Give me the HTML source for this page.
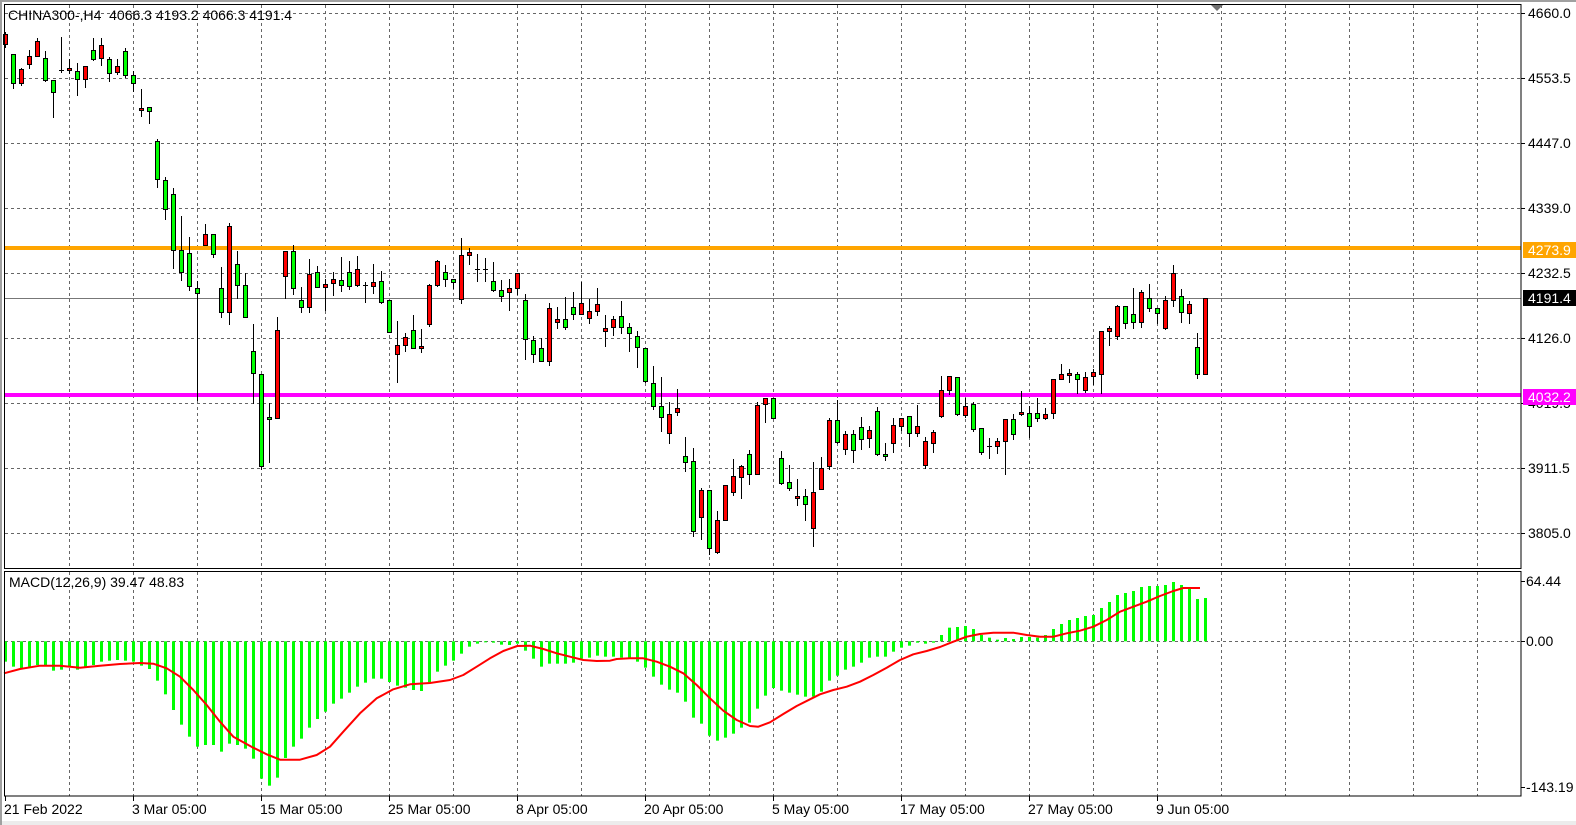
<!DOCTYPE html>
<html><head><meta charset="utf-8">
<style>
html,body{margin:0;padding:0;background:#fff;}
svg{display:block;font-family:"Liberation Sans",Tahoma,sans-serif;}
</style></head>
<body>
<svg id="s" width="1576" height="825" xmlns="http://www.w3.org/2000/svg">
<rect x="0" y="0" width="1576" height="825" fill="#fff"/>
<rect x="0" y="821" width="1576" height="4" fill="#ececec"/>
<rect x="0" y="0" width="2" height="825" fill="#a0a0a0"/>
<rect x="0" y="0" width="1576" height="2" fill="#a0a0a0"/>
<g id="grid"></g>
<g id="macd"></g>
<g id="candles"></g>
<g id="frame"></g>
<g id="labels"></g>
</svg>
<script>
var NS="http://www.w3.org/2000/svg";
function el(p,t,a,txt){var e=document.createElementNS(NS,t);for(var k in a)e.setAttribute(k,a[k]);if(txt!==undefined)e.textContent=txt;document.getElementById(p).appendChild(e);return e;}
var R=1521;
for(var x=69;x<R;x+=64){el('grid','line',{x1:x+.5,y1:5,x2:x+.5,y2:569,stroke:'#666','stroke-dasharray':'3,3','stroke-width':1});
 el('grid','line',{x1:x+.5,y1:572,x2:x+.5,y2:796,stroke:'#666','stroke-dasharray':'3,3','stroke-width':1});}
for(var k=0;k<9;k++){var y=13+65*k;el('grid','line',{x1:5,y1:y+.5,x2:R,y2:y+.5,stroke:'#666','stroke-dasharray':'3,3','stroke-width':1});}
el('grid','line',{x1:5,y1:641.5,x2:R,y2:641.5,stroke:'#666','stroke-dasharray':'3,3','stroke-width':1});
el('grid','line',{x1:5,y1:298.5,x2:R,y2:298.5,stroke:'#777','stroke-width':1});
el('grid','rect',{x:5,y:246,width:R-5,height:4,fill:'#ffa500'});
el('grid','rect',{x:5,y:393,width:R-5,height:4,fill:'#ff00ff'});
var C=[[32,47,34,44,'r'],[54,88,54,83,'g'],[68,85,69,83,'r'],[50,68,56,64,'r'],[38,56,41,56,'r'],[51,81,58,80,'g'],[80,117,80,92,'g'],[37,72,70,70,'d'],[59,73,68,70,'r'],[63,95,71,79,'g'],
[66,87,66,79,'r'],[38,60,50,59,'g'],[38,65,45,58,'r'],[57,81,59,73,'g'],[59,74,66,72,'r'],[48,77,51,75,'g'],[71,91,75,83,'g'],[89,116,108,110,'r'],[107,123,107,111,'g'],[139,187,141,179,'g'],
[177,219,180,209,'g'],[188,268,194,250,'g'],[216,280,250,272,'g'],[237,290,253,286,'g'],[281,400,288,293,'g'],[224,245,234,245,'r'],[234,257,234,254,'g'],[267,317,288,312,'g'],[223,324,226,312,'r'],[251,298,264,285,'g'],
[273,317,285,317,'g'],[324,403,351,373,'g'],[374,469,374,466,'g'],[403,462,417,419,'g'],[317,418,330,418,'r'],[251,298,251,276,'r'],[245,294,251,288,'g'],[287,312,300,307,'g'],[259,312,274,307,'r'],[266,287,272,287,'g'],
[279,310,284,287,'r'],[272,295,279,283,'r'],[257,291,280,285,'g'],[261,289,272,286,'g'],[256,286,269,285,'r'],[282,302,285,285,'d'],[264,293,282,286,'r'],[271,303,281,302,'g'],[300,332,300,332,'g'],[321,382,345,354,'r'],
[333,351,337,345,'r'],[315,348,330,348,'g'],[329,352,346,348,'r'],[284,326,285,324,'r'],[260,286,261,285,'r'],[265,286,272,279,'g'],[279,288,279,282,'g'],[238,303,255,299,'r'],[248,264,252,255,'r'],[254,281,269,269,'d'],
[258,281,269,269,'d'],[262,291,281,290,'g'],[280,301,290,296,'g'],[279,310,288,292,'r'],[273,294,273,288,'r'],[294,359,300,339,'g'],[336,362,340,354,'g'],[338,361,348,361,'g'],[303,365,308,361,'r'],[307,328,319,322,'r'],
[297,329,319,327,'g'],[292,319,307,314,'g'],[282,314,303,314,'r'],[299,323,311,318,'r'],[288,315,304,311,'r'],[315,346,328,331,'r'],[316,335,319,327,'r'],[301,333,316,327,'g'],[323,351,327,333,'g'],[331,367,336,347,'g'],
[348,382,348,381,'g'],[366,409,383,406,'g'],[377,431,406,417,'g'],[402,443,414,433,'r'],[389,415,408,412,'r'],[437,471,456,462,'g'],[448,536,461,531,'g'],[488,539,490,517,'r'],[490,554,490,548,'g'],[511,553,520,552,'r'],
[485,520,485,520,'r'],[459,495,476,492,'r'],[465,498,466,477,'r'],[450,484,454,474,'g'],[402,474,405,474,'r'],[398,422,398,404,'r'],[398,418,398,418,'g'],[451,484,458,483,'g'],[465,490,482,488,'g'],[479,505,496,498,'r'],
[489,520,496,504,'g'],[462,546,492,528,'r'],[457,489,468,489,'r'],[418,469,420,466,'r'],[400,443,420,442,'g'],[431,454,434,449,'r'],[430,462,434,450,'g'],[417,449,427,439,'g'],[426,447,430,438,'r'],[407,455,411,454,'g'],
[443,460,454,456,'g'],[418,452,425,443,'r'],[418,430,418,426,'r'],[416,446,416,433,'g'],[405,436,426,433,'r'],[437,468,441,465,'r'],[430,452,432,443,'r'],[376,417,390,416,'r'],[376,394,376,390,'r'],[377,415,377,414,'g'],
[398,417,406,415,'r'],[402,431,404,429,'g'],[428,454,428,452,'g'],[438,458,446,446,'d'],[438,453,441,446,'r'],[419,474,419,441,'r'],[414,439,419,434,'g'],[391,415,412,414,'r'],[406,437,413,426,'g'],[398,421,413,418,'g'],
[408,419,414,418,'r'],[379,418,379,413,'r'],[364,379,374,379,'r'],[369,382,373,375,'r'],[372,393,374,379,'g'],[372,392,377,390,'r'],[369,384,372,376,'r'],[331,393,331,374,'r'],[326,345,328,331,'r'],[305,339,306,336,'r'],
[306,328,306,323,'g'],[288,328,314,322,'g'],[290,327,292,322,'r'],[284,311,298,308,'g'],[308,323,308,313,'g'],[296,329,300,328,'r'],[265,306,273,300,'r'],[289,322,296,312,'g'],[301,323,304,313,'r'],[333,378,347,374,'g'],
[298,374,298,374,'r']];
function X(i){return Math.round(5.3+8*i);}
C.forEach(function(c,i){var x=X(i);
 el('candles','line',{x1:x+.5,y1:c[0],x2:x+.5,y2:c[1]+1,stroke:'#000','stroke-width':1});
 if(c[4]=='d'||c[3]-c[2]<1){el('candles','rect',{x:x-2,y:c[2],width:5,height:1,fill:'#000'});}
 else el('candles','rect',{x:x-2+.5,y:c[2]+.5,width:4,height:c[3]-c[2],fill:c[4]=='r'?'#ff0000':'#00ff00',stroke:'#000','stroke-width':1});
});
var H6=[290,305,310,305,300,300,317,314,307,314,305,300,290,287,285,287,290,302,312,347,388,435,479,515,545,540,540,560,536,540,551,581,641,662,638,579,545,521,488,462,440,416,401,383,365,353,341,341,351,362,368];
var H7=[375,378,352,320,302,287,266,245,236,232,233,239,240,236,257,281,305,296,296,296,293,281,278,272,275,275,278,278,290,308,335,359,374,383,410,458,476,512,527,518,506,488,473,431,392,369,377,383,389,395,395];
var H8=[380,347,332,314,305,293,278,275,275,260,248,242,233,236,233,210,188,186,183,192,210,218,224,219,222,216,216,218,210,192,177,165,159,153,150,129,111,90,84,78,66,63,63,60,51,60,70,102,99];
var H=H6.concat(H7,H8);
H.forEach(function(z,i){var y=565+z/3,y0=641.3;var x=X(i);var t=Math.min(y,y0),b=Math.max(y,y0);
 el('macd','rect',{x:x-1,y:t,width:3,height:Math.max(1,b-t),fill:'#00ff00'});});
function pts(arr,x0){return arr.map(function(p){return (x0+p[0]/3).toFixed(1)+','+(565+p[1]/3).toFixed(1);});}
var S6=[[12,325],[60,312],[120,302],[180,302],[240,308],[300,302],[360,297],[420,294],[460,296],[500,310],[540,335],[580,375],[620,420],[660,470],[700,515],[760,548],[800,568],[840,584],[900,584],[950,570],[990,545],[1030,500],[1080,445],[1130,400],[1180,373],[1230,358]];
var S7=[[0,358],[60,354],[120,345],[160,330],[200,305],[240,280],[280,258],[322,243],[360,242],[400,252],[440,265],[480,275],[520,285],[560,288],[600,287],[620,282],[660,280],[700,280],[740,290],[780,305],[820,325],[860,360],[900,400],[940,437],[980,465],[1020,483],[1045,485],[1080,472],[1120,447],[1160,423],[1200,403]];
var S8=[[0,388],[40,375],[80,365],[120,350],[160,330],[200,308],[240,285],[280,268],[320,258],[360,246],[400,230],[440,215],[480,207],[520,203],[580,203],[620,210],[660,215],[700,215],[740,205],[780,197],[820,185],[860,165],[900,140],[940,125],[980,110],[1020,93],[1060,78],[1090,69],[1140,69]];
var P=pts(S6,0).concat(pts(S7,410),pts(S8,820));
el('macd','polyline',{points:P.join(' '),fill:'none',stroke:'#ff0000','stroke-width':2,'stroke-linejoin':'round'});
el('frame','rect',{x:4.5,y:4.5,width:R-4.5,height:564,fill:'none',stroke:'#000','stroke-width':1});
el('frame','rect',{x:4.5,y:571.5,width:R-4.5,height:224.5,fill:'none',stroke:'#000','stroke-width':1});
el('frame','polygon',{points:'1211,5 1223,5 1217,11',fill:'#707070'});
var FS=14;
var PL=[[13,'4660.0'],[78,'4553.5'],[143,'4447.0'],[208,'4339.0'],[273,'4232.5'],[338,'4126.0'],[403,'4019.5'],[468,'3911.5'],[533,'3805.0']];
PL.forEach(function(p){el('labels','line',{x1:R,y1:p[0]+.5,x2:R+4,y2:p[0]+.5,stroke:'#000'});el('labels','text',{x:1528,y:p[0]+5,'font-size':FS,fill:'#000'},p[1]);});
function box(y,col,t){el('labels','rect',{x:1523,y:y-8,width:53,height:16,fill:col});el('labels','text',{x:1528,y:y+5,'font-size':FS,fill:'#fff'},t);}
box(250,'#ffa500','4273.9');box(298,'#000','4191.4');box(397,'#ff00ff','4032.2');
[[581,'64.44'],[641,'0.00'],[787,'-143.19']].forEach(function(p){el('labels','line',{x1:R,y1:p[0]+.5,x2:R+4,y2:p[0]+.5,stroke:'#000'});el('labels','text',{x:1526,y:p[0]+5,'font-size':FS,fill:'#000'},p[1]);});
var TL=['21 Feb 2022','3 Mar 05:00','15 Mar 05:00','25 Mar 05:00','8 Apr 05:00','20 Apr 05:00','5 May 05:00','17 May 05:00','27 May 05:00','9 Jun 05:00'];
TL.forEach(function(t,i){var x=5+128*i;el('labels','line',{x1:x+.5,y1:796,x2:x+.5,y2:801,stroke:'#000'});el('labels','text',{x:x-1,y:814,'font-size':FS,fill:'#000'},t);});
el('labels','text',{x:8,y:20,'font-size':FS,fill:'#000','xml:space':'preserve',style:'white-space:pre'},'CHINA300-,H4  4066.3 4193.2 4066.3 4191.4');
el('labels','text',{x:9,y:587,'font-size':FS,fill:'#000'},'MACD(12,26,9) 39.47 48.83');
</script>
</body></html>
